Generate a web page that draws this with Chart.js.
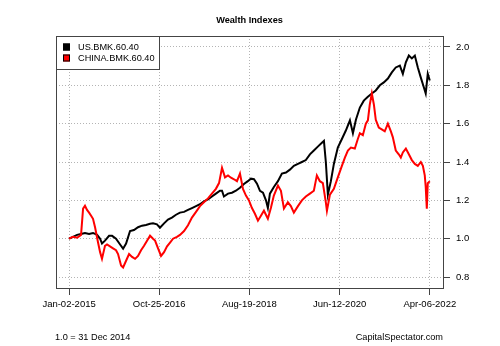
<!DOCTYPE html>
<html>
<head>
<meta charset="utf-8">
<script src="https://cdn.jsdelivr.net/npm/chart.js@4/dist/chart.umd.min.js"></script>
<style>
  html, body { margin: 0; padding: 0; background: #fff; }
  #chart { display: block; }
</style>
</head>
<body>
<canvas id="chart" width="500" height="346"></canvas>
<script>
// x values are calendar days since Jan-02-2015
const usDays = [0, 29, 59, 88, 117, 147, 176, 206, 228, 242, 264, 294, 316, 345, 375, 397, 419, 448, 477, 507,
    536, 565, 595, 617, 646, 668, 698, 727, 756, 786, 815, 845, 874, 903, 933, 962, 991, 1021, 1050, 1079,
    1109, 1124, 1138, 1168, 1197, 1226, 1256, 1285, 1314, 1336, 1359, 1381, 1403, 1425, 1447, 1461, 1476, 1505, 1535, 1564,
    1594, 1623, 1652, 1682, 1711, 1740, 1770, 1799, 1828, 1858, 1873, 1887, 1902, 1924, 1946, 1975, 2005, 2034, 2064, 2086,
    2108, 2137, 2166, 2196, 2225, 2254, 2284, 2313, 2343, 2372, 2401, 2431, 2453, 2475, 2497, 2519, 2541, 2563, 2585, 2607,
    2621, 2636, 2651];
const usValues = [1.00, 1.01, 1.02, 1.025, 1.03, 1.025, 1.03, 1.02, 1.00, 0.975, 0.99, 1.015, 1.015, 1.0, 0.97, 0.948, 0.975, 1.04, 1.045, 1.06,
    1.068, 1.072, 1.078, 1.08, 1.075, 1.057, 1.08, 1.10, 1.11, 1.125, 1.136, 1.14, 1.15, 1.16, 1.17, 1.18, 1.195, 1.205, 1.22, 1.235,
    1.25, 1.25, 1.22, 1.235, 1.24, 1.25, 1.266, 1.285, 1.30, 1.313, 1.31, 1.287, 1.25, 1.24, 1.20, 1.16, 1.235, 1.27, 1.30, 1.34,
    1.345, 1.36, 1.38, 1.39, 1.40, 1.41, 1.44, 1.46, 1.48, 1.50, 1.51, 1.40, 1.23, 1.30, 1.39, 1.475, 1.52, 1.564, 1.617, 1.55,
    1.62, 1.684, 1.72, 1.74, 1.757, 1.773, 1.80, 1.815, 1.835, 1.867, 1.893, 1.903, 1.86, 1.92, 1.955, 1.94, 1.955, 1.893, 1.84, 1.79,
    1.757, 1.86, 1.825];

const cnDays = [0, 29, 59, 88, 103, 117, 132, 147, 162, 176, 191, 213, 228, 242, 264, 279, 301, 323, 345, 360,
    382, 397, 419, 441, 463, 485, 507, 529, 551, 573, 595, 617, 632, 654, 676, 698, 720, 742, 764, 793,
    815, 845, 874, 903, 933, 962, 991, 1021, 1050, 1079, 1102, 1124, 1146, 1168, 1190, 1212, 1234, 1256, 1278, 1300,
    1322, 1344, 1366, 1388, 1410, 1432, 1461, 1483, 1505, 1535, 1557, 1579, 1608, 1630, 1652, 1682, 1711, 1740, 1770, 1799,
    1821, 1843, 1865, 1887, 1895, 1917, 1946, 1975, 2005, 2027, 2049, 2071, 2100, 2122, 2137, 2159, 2181, 2196, 2210, 2225,
    2240, 2254, 2276, 2298, 2320, 2343, 2365, 2379, 2401, 2423, 2438, 2453, 2475, 2497, 2519, 2541, 2563, 2585, 2600, 2614,
    2621, 2629, 2636, 2651];
const cnValues = [1.00, 1.01, 1.005, 1.02, 1.157, 1.172, 1.15, 1.136, 1.12, 1.104, 1.06, 0.98, 0.93, 0.895, 0.963, 0.97, 0.96, 0.95, 0.94, 0.92,
    0.86, 0.85, 0.885, 0.92, 0.905, 0.895, 0.91, 0.94, 0.963, 0.99, 1.016, 1.0, 0.99, 0.95, 0.91, 0.93, 0.96, 0.98, 1.0, 1.01,
    1.02, 1.04, 1.07, 1.11, 1.14, 1.17, 1.19, 1.21, 1.235, 1.26, 1.29, 1.37, 1.32, 1.33, 1.318, 1.31, 1.30, 1.34, 1.26, 1.225,
    1.20, 1.16, 1.13, 1.094, 1.12, 1.146, 1.104, 1.16, 1.225, 1.277, 1.25, 1.157, 1.19, 1.17, 1.136, 1.17, 1.20, 1.22, 1.235, 1.25,
    1.33, 1.30, 1.29, 1.19, 1.146, 1.23, 1.26, 1.32, 1.38, 1.423, 1.46, 1.475, 1.47, 1.52, 1.55, 1.54, 1.60, 1.617, 1.70, 1.757,
    1.70, 1.62, 1.58, 1.57, 1.56, 1.60, 1.56, 1.53, 1.46, 1.44, 1.423, 1.45, 1.47, 1.44, 1.41, 1.39, 1.38, 1.40, 1.38, 1.33,
    1.27, 1.157, 1.29, 1.30];

const tickDays = [0, 662, 1325, 1988, 2651];
const tickLabels = ['Jan-02-2015', 'Oct-25-2016', 'Aug-19-2018', 'Jun-12-2020', 'Apr-06-2022'];
const yTicks = [0.8, 1.0, 1.2, 1.4, 1.6, 1.8, 2.0];
const seriesNames = ['US.BMK.60.40', 'CHINA.BMK.60.40'];
const seriesColors = ['#000000', '#ff0000'];

const FONT = 'Liberation Sans, Arial, sans-serif';

function toPoints(days, values) {
    return days.map((d, i) => ({ x: d, y: values[i] }));
}

const framePlugin = {
    id: 'frame',
    beforeDraw(chart) {
        const ctx = chart.ctx;
        ctx.save();
        ctx.fillStyle = '#fff';
        ctx.fillRect(0, 0, chart.width, chart.height);
        ctx.restore();
    },
    afterDraw(chart) {
        const ctx = chart.ctx;
        const a = chart.chartArea;
        ctx.save();
        // plot box
        ctx.strokeStyle = '#444';
        ctx.lineWidth = 1;
        ctx.strokeRect(a.left + 0.5, a.top + 0.5, a.right - a.left, a.bottom - a.top);

        // legend box
        ctx.fillStyle = '#fff';
        ctx.fillRect(a.left + 0.5, a.top + 0.5, 103, 33);
        ctx.strokeRect(a.left + 0.5, a.top + 0.5, 103, 33);
        ctx.font = '9.2px ' + FONT;
        ctx.textBaseline = 'middle';
        seriesNames.forEach((name, i) => {
            const y = a.top + 11 + i * 11;
            ctx.fillStyle = seriesColors[i];
            ctx.fillRect(a.left + 7, y - 3.5, 7, 7);
            ctx.strokeStyle = '#000';
            ctx.strokeRect(a.left + 7.5, y - 3, 6, 6);
            ctx.fillStyle = '#000';
            ctx.fillText(name, a.left + 22, y + 0.5);
        });

        // title
        ctx.font = 'bold 9.2px ' + FONT;
        ctx.textAlign = 'center';
        ctx.fillText('Wealth Indexes', (a.left + a.right) / 2, 20);

        // footer notes
        ctx.font = '9.2px ' + FONT;
        ctx.textAlign = 'left';
        ctx.fillText('1.0 = 31 Dec 2014', a.left - 1, 337);
        ctx.textAlign = 'right';
        ctx.fillText('CapitalSpectator.com', a.right, 337);
        ctx.restore();
    }
};

const gridStyle = {
    color: '#b4b4b4',
    tickColor: '#444',
    tickLength: 7,
    tickBorderDash: [],
    lineWidth: 1
};

new Chart(document.getElementById('chart'), {
    type: 'line',
    data: {
        datasets: [
            {
                label: seriesNames[0],
                data: toPoints(usDays, usValues),
                borderColor: seriesColors[0],
                borderWidth: 2,
                pointRadius: 0,
                tension: 0,
                order: 2
            },
            {
                label: seriesNames[1],
                data: toPoints(cnDays, cnValues),
                borderColor: seriesColors[1],
                borderWidth: 2,
                pointRadius: 0,
                tension: 0,
                order: 1
            }
        ]
    },
    options: {
        responsive: false,
        animation: false,
        events: [],
        layout: { padding: { left: 56, top: 36, right: 0, bottom: 0 } },
        plugins: {
            legend: { display: false },
            tooltip: { enabled: false },
            title: { display: false }
        },
        scales: {
            x: {
                type: 'linear',
                position: 'bottom',
                min: -96,
                max: 2748,
                afterBuildTicks: (scale) => { scale.ticks = tickDays.map(v => ({ value: v })); },
                afterFit: (scale) => { scale.height = 58; },
                ticks: {
                    autoSkip: false,
                    maxRotation: 0,
                    padding: 4,
                    color: '#000',
                    font: { family: FONT, size: 9.5 },
                    callback: (v) => tickLabels[tickDays.indexOf(v)]
                },
                grid: gridStyle,
                border: { display: false, dash: [1, 2] }
            },
            y: {
                type: 'linear',
                position: 'right',
                min: 0.743,
                max: 2.057,
                afterBuildTicks: (scale) => { scale.ticks = yTicks.map(v => ({ value: v })); },
                afterFit: (scale) => { scale.width = 57; },
                ticks: {
                    padding: 6,
                    color: '#000',
                    font: { family: FONT, size: 9.5 },
                    callback: (v) => Number(v).toFixed(1)
                },
                grid: gridStyle,
                border: { display: false, dash: [1, 2] }
            }
        }
    },
    plugins: [framePlugin]
});
</script>
</body>
</html>
